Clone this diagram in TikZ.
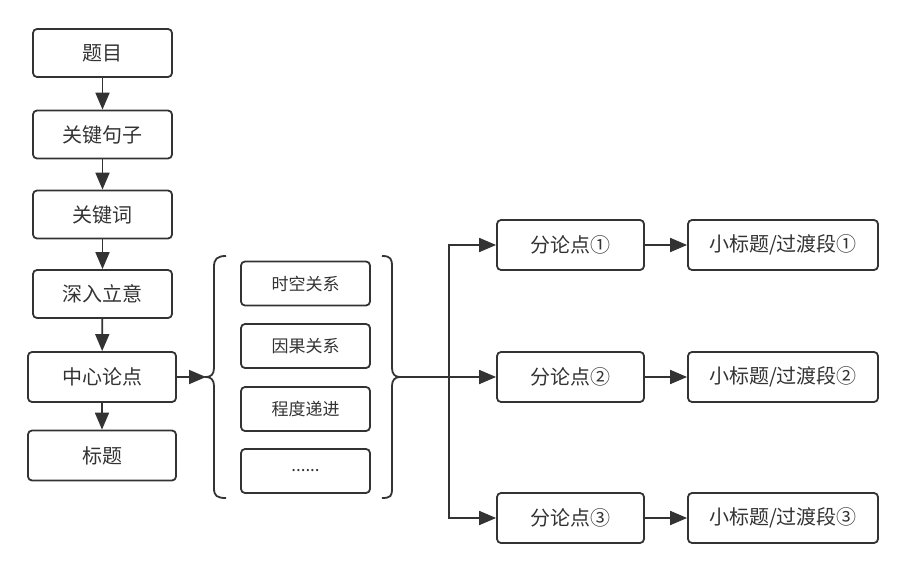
\documentclass[tikz,border=0pt]{standalone}
\usepackage{fontspec}
\newfontfamily\cjk{Noto Sans CJK SC}
\usetikzlibrary{arrows.meta}
\definecolor{ink}{HTML}{333333}
\begin{document}
\begin{tikzpicture}[x=1pt,y=-1pt,
  base/.style={draw=ink, line width=1.8pt, rounded corners=4pt, text=ink, inner sep=0pt},
  lbox/.style={base, minimum width=139pt, minimum height=48pt, font=\cjk\fontsize{20}{24}\selectfont},
  wbox/.style={base, minimum width=148pt, minimum height=50pt, font=\cjk\fontsize{20}{24}\selectfont},
  mbox/.style={base, minimum width=129pt, minimum height=44pt, font=\cjk\fontsize{17}{20}\selectfont},
  fbox/.style={base, minimum width=147pt, minimum height=50pt, font=\cjk\fontsize{20}{24}\selectfont},
  sbox/.style={base, minimum width=190pt, minimum height=50pt, font=\cjk\fontsize{20}{24}\selectfont},
  arr/.style={draw=ink, line width=1.8pt, -{Triangle[length=17pt,width=14pt]}},
  brace/.style={draw=ink, line width=1.8pt}]
\useasboundingbox (0,0) rectangle (907,572);
% left column
\node[lbox] (t1) at (102.5,53) {题目};
\node[lbox] (t2) at (102.5,134.5) {关键句子};
\node[lbox] (t3) at (102.5,214.5) {关键词};
\node[lbox] (t4) at (102.5,294) {深入立意};
\node[wbox] (t5) at (102,377) {中心论点};
\node[wbox] (t6) at (102,455.5) {标题};
\draw[arr] (t1) -- (t2);
\draw[arr] (t2) -- (t3);
\draw[arr] (t3) -- (t4);
\draw[arr] (t4) -- (t5);
\draw[arr] (t5) -- (t6);
% middle boxes
\node[mbox] (m1) at (305.5,283.5) {时空关系};
\node[mbox] (m2) at (305.5,346) {因果关系};
\node[mbox] (m3) at (305.5,409) {程度递进};
\node[mbox] (m4) at (305.5,471) {......};
% braces
\coordinate (lt) at (206,377);
\coordinate (rt) at (400,377);
\draw[brace] (226,256) .. controls (217,256) and (214,259) .. (214,267) -- (214,368)
  .. controls (214,374) and (211,377) .. (lt) .. controls (211,377) and (214,380) .. (214,386)
  -- (214,488) .. controls (214,496) and (217,498) .. (226,498);
\draw[brace] (382,256) .. controls (391,256) and (392,259) .. (392,267) -- (392,368)
  .. controls (392,374) and (395,377) .. (rt) .. controls (395,377) and (392,380) .. (392,386)
  -- (392,488) .. controls (392,496) and (391,498) .. (382,498);
\draw[arr] (t5) -- (lt);
% right side
\node[fbox] (f1) at (570.5,245) {分论点①};
\node[fbox] (f2) at (570.5,377) {分论点②};
\node[fbox] (f3) at (570.5,518) {分论点③};
\node[sbox] (s1) at (783,245) {小标题/过渡段①};
\node[sbox] (s2) at (783,377) {小标题/过渡段②};
\node[sbox] (s3) at (783,518) {小标题/过渡段③};
\coordinate (jn) at (449,377);
\draw[arr] (rt) -- (f2);
\draw[arr] (jn) |- (f1);
\draw[arr] (jn) |- (f3);
\draw[arr] (f1) -- (s1);
\draw[arr] (f2) -- (s2);
\draw[arr] (f3) -- (s3);
\end{tikzpicture}
\end{document}
